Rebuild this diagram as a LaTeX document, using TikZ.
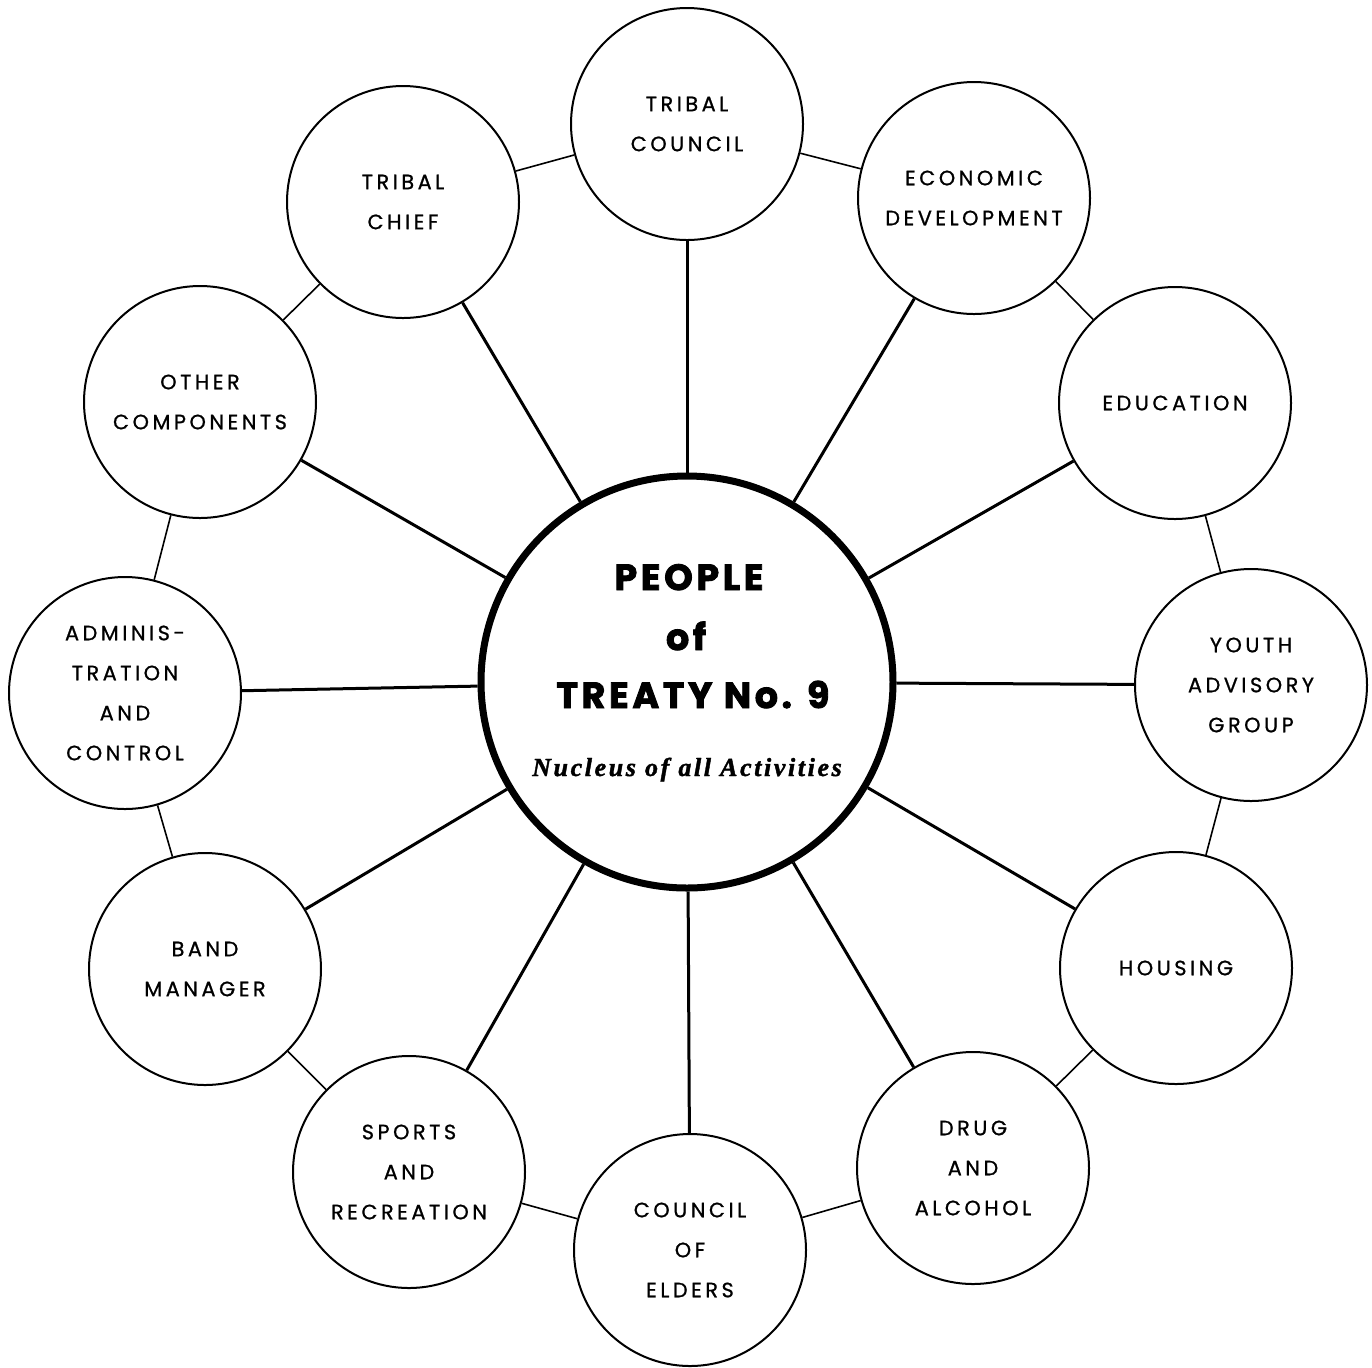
\documentclass[tikz,border=0pt]{standalone}
\usepackage{fontspec}
\newfontfamily\labfont[LetterSpace=17,FakeBold=0.9]{Poppins}
\newfontfamily\centfont[LetterSpace=10,BoldFeatures={FakeBold=2.4}]{Poppins}
\newfontfamily\nucfont[LetterSpace=10,BoldItalicFeatures={FakeBold=1.5}]{Liberation Serif}
\begin{document}
\begin{tikzpicture}[x=0.5pt,y=-0.5pt,
  comp/.style={circle,draw,line width=1pt,minimum size=116pt,inner sep=0pt,align=center,
    font=\labfont\fontsize{10.4}{20}\selectfont,fill=white},
  nucleus/.style={circle,draw,line width=3.5pt,minimum size=206pt,inner sep=0pt,fill=white},
  spoke/.style={line width=1.5pt},
  ring/.style={line width=0.8pt},
  bigtext/.style={anchor=base,inner sep=0pt,font=\centfont\bfseries\fontsize{18.2}{20}\selectfont},
  nuctext/.style={anchor=base,inner sep=0pt,font=\nucfont\bfseries\itshape\fontsize{13}{14}\selectfont}]
\useasboundingbox[fill=white] (0,0) rectangle (1372,1367);
\node[nucleus] (ctr) at (687,682) {};
\node[comp] (c1) at (687,124) {TRIBAL\\COUNCIL};
\node[comp] (c2) at (974,198) {ECONOMIC\\DEVELOPMENT};
\node[comp] (c3) at (1175,403) {EDUCATION};
\node[comp] (c4) at (1251,685) {YOUTH\\ADVISORY\\GROUP};
\node[comp] (c5) at (1176,968) {HOUSING};
\node[comp] (c6) at (973,1168) {DRUG\\AND\\ALCOHOL};
\node[comp] (c7) at (690,1250) {COUNCIL\\OF\\ELDERS};
\node[comp] (c8) at (409,1172) {SPORTS\\AND\\RECREATION};
\node[comp] (c9) at (205,969) {BAND\\MANAGER};
\node[comp] (c10) at (125,693) {ADMINIS-\\TRATION\\AND\\CONTROL};
\node[comp] (c11) at (200,402) {OTHER\\COMPONENTS};
\node[comp] (c12) at (403,202) {TRIBAL\\CHIEF};
\foreach \i/\j in {1/2,2/3,3/4,4/5,5/6,6/7,7/8,8/9,9/10,10/11,11/12,12/1}
  \draw[ring] (c\i) -- (c\j);
\foreach \i in {1,...,12}
  \draw[spoke] (ctr) -- (c\i);
\node[bigtext] (t1) at (689,590) {PEOPLE};
\node[bigtext] (t2) at (686,650) {of};
\node[bigtext] (t3) at (693,708) {TREATY No. 9};
\node[nuctext] (t4) at (687,776) {Nucleus of all Activities};
\end{tikzpicture}
\end{document}
